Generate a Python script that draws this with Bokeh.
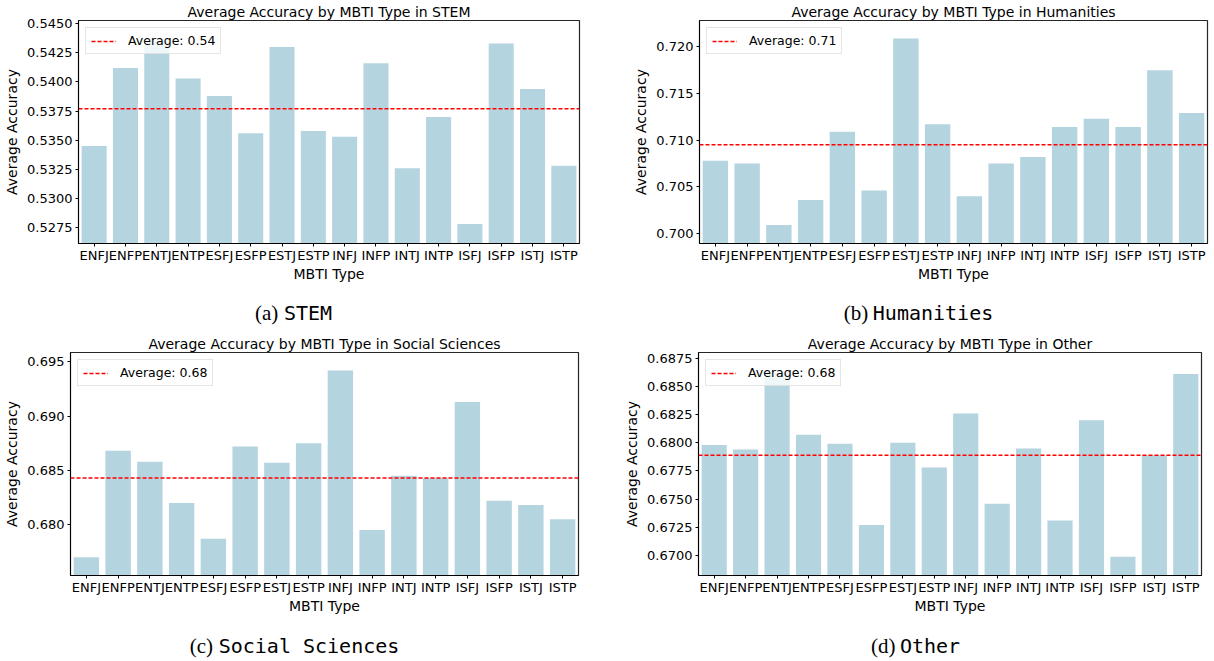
from bokeh.plotting import figure
from bokeh.models import Range1d, FactorRange, FixedTicker, PrintfTickFormatter
from bokeh.layouts import column, row
from bokeh.embed import file_html
from bokeh.resources import INLINE
from bokeh.core.properties import value

# ---------------- data ----------------
mbti_types = ["ENFJ", "ENFP", "ENTJ", "ENTP", "ESFJ", "ESFP", "ESTJ", "ESTP",
              "INFJ", "INFP", "INTJ", "INTP", "ISFJ", "ISFP", "ISTJ", "ISTP"]

stem_acc = [0.5345, 0.5412, 0.5435, 0.5403, 0.5388, 0.5356, 0.5430, 0.5358,
            0.5353, 0.5416, 0.5326, 0.5370, 0.5278, 0.5433, 0.5394, 0.5328]
humanities_acc = [0.7078, 0.7075, 0.7009, 0.7036, 0.7109, 0.7046, 0.7209, 0.7117,
                  0.7040, 0.7075, 0.7082, 0.7114, 0.7123, 0.7114, 0.7175, 0.7129]
social_acc = [0.6770, 0.6868, 0.6858, 0.6820, 0.6787, 0.6872, 0.6857, 0.6875,
              0.6942, 0.6795, 0.6845, 0.6843, 0.6913, 0.6822, 0.6818, 0.6805]
other_acc = [0.6798, 0.6794, 0.6862, 0.6807, 0.6799, 0.6727, 0.6800, 0.6778,
             0.6826, 0.6746, 0.6795, 0.6731, 0.6820, 0.6699, 0.6789, 0.6861]

averages = [0.5377, 0.7095, 0.6843, 0.6789]
domains = ["STEM", "Humanities", "Social Sciences", "Other"]
letters = ["(a)", "(b)", "(c)", "(d)"]

y_limits = [(0.52613, 0.54528), (0.69893, 0.72282), (0.67531, 0.69586), (0.66823, 0.68800)]
y_ticks = [
    [0.5275, 0.5300, 0.5325, 0.5350, 0.5375, 0.5400, 0.5425, 0.5450],
    [0.700, 0.705, 0.710, 0.715, 0.720],
    [0.680, 0.685, 0.690, 0.695],
    [0.6700, 0.6725, 0.6750, 0.6775, 0.6800, 0.6825, 0.6850, 0.6875],
]
y_formats = ["%.4f", "%.3f", "%.3f", "%.4f"]

BAR_COLOR = "#b4d4df"
FONT = "DejaVu Sans"


def panel(i, width, height, bl, br, bt, bb):
    vals = [stem_acc, humanities_acc, social_acc, other_acc][i]
    p = figure(width=width, height=height,
               x_range=FactorRange(factors=mbti_types, range_padding=0, factor_padding=0),
               y_range=Range1d(*y_limits[i]),
               output_backend="svg", toolbar_location=None,
               min_border_left=bl, min_border_right=br,
               min_border_top=bt, min_border_bottom=bb,
               title="Average Accuracy by MBTI Type in " + domains[i])
    p.title.text_font = FONT
    p.title.text_font_size = "14px"
    p.title.text_font_style = "normal"
    p.title.align = "center"
    p.title.standoff = 1
    p.title.text_color = "black"

    p.vbar(x=mbti_types, top=vals, bottom=0, width=0.8,
           fill_color=BAR_COLOR, line_color=None)
    avg = averages[i]
    n = len(mbti_types)
    p.line(x=[0, n], y=[avg, avg], line_color="red", line_dash="4 2",
           line_width=1.5, legend_label="Average: %.2f" % avg)

    p.xgrid.visible = False
    p.ygrid.visible = False
    p.outline_line_color = "black"
    p.outline_line_width = 1.2
    p.outline_line_alpha = 0.85

    for ax in (p.xaxis, p.yaxis):
        ax.axis_line_color = "black"
        ax.major_tick_line_color = "black"
        ax.major_tick_in = 0
        ax.major_tick_out = 3
        ax.minor_tick_line_color = None
        ax.major_label_text_font = FONT
        ax.major_label_text_font_size = "13px"
        ax.major_label_text_color = "black"
        ax.axis_label_text_font = FONT
        ax.axis_label_text_font_size = "14px"
        ax.axis_label_text_font_style = "normal"
        ax.axis_label_text_color = "black"

    p.xaxis.axis_label = "MBTI Type"
    p.xaxis.major_label_standoff = 1
    p.xaxis.axis_label_standoff = 0
    p.yaxis.axis_label = "Average Accuracy"
    p.yaxis.major_label_standoff = 3
    p.yaxis.axis_label_standoff = 4
    p.yaxis.ticker = FixedTicker(ticks=y_ticks[i])
    p.yaxis.formatter = PrintfTickFormatter(format=y_formats[i])

    lg = p.legend[0]
    lg.location = "top_left"
    lg.margin = 7
    lg.padding = 5
    lg.spacing = 0
    lg.label_standoff = 12
    lg.glyph_width = 25
    lg.glyph_height = 14
    lg.label_height = 14
    lg.label_text_font = FONT
    lg.label_text_font_size = "12.5px"
    lg.label_text_color = "black"
    lg.border_line_color = "#cccccc"
    lg.border_line_width = 1
    lg.background_fill_alpha = 0.8
    return p


def caption(width, height, entries):
    c = figure(width=width, height=height, x_range=Range1d(0, width),
               y_range=Range1d(0, height), output_backend="svg",
               toolbar_location=None, min_border=0, x_axis_type=None,
               y_axis_type=None, outline_line_color=None)
    for (cx, cy, idx) in entries:
        serif_w = 29
        mono_w = len(domains[idx]) * 12.04
        x0 = cx - (serif_w + mono_w) / 2
        c.text(x=[x0], y=[cy], text=[letters[idx]],
               text_font=value("Liberation Serif"), text_font_size="21px",
               text_baseline="middle", text_align="left", text_color="black")
        c.text(x=[x0 + serif_w], y=[cy], text=[domains[idx]],
               text_font=value("DejaVu Sans Mono"), text_font_size="20px",
               text_baseline="middle", text_align="left", text_color="black")
    return c


pa = panel(0, 600, 290, 78, 21, 20, 47)
pb = panel(1, 609, 290, 99, 2, 20, 47)
pc = panel(2, 600, 290, 70, 22, 22, 45)
pd = panel(3, 603, 290, 98, 2, 22, 45)

cap1 = caption(1209, 40, [(293, 18, 0), (918, 18, 1)])
cap2 = caption(1209, 41, [(294, 16, 2), (915, 16, 3)])

layout = column(row(pa, pb), cap1, row(pc, pd), cap2)

open("out.html", "w").write(file_html(layout, INLINE))
